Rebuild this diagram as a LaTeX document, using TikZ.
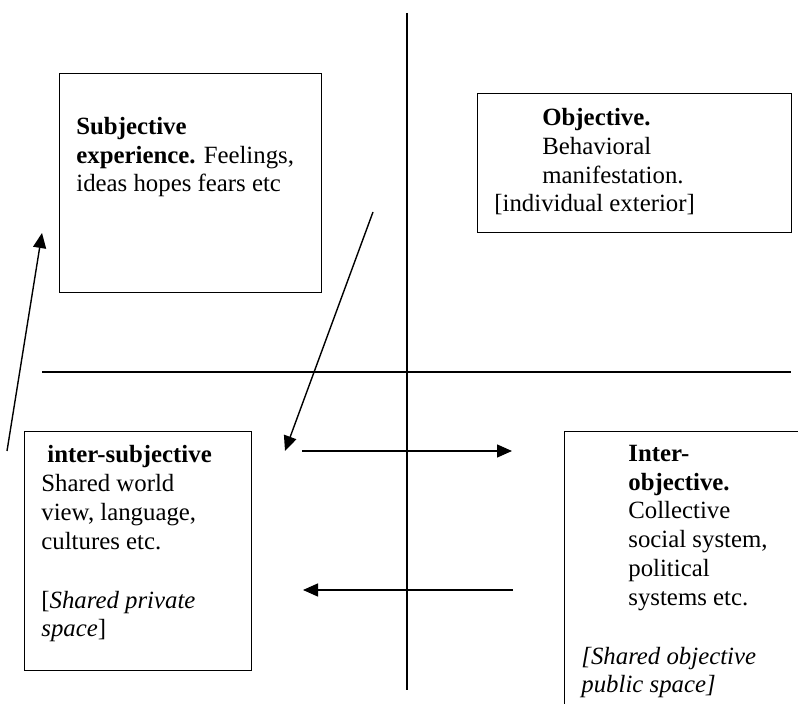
\documentclass[tikz,border=0pt]{standalone}
\usepackage{fontspec}
\setmainfont{Liberation Serif}
\usetikzlibrary{positioning, arrows.meta}

\begin{document}
\begin{tikzpicture}[
  x=0.5pt, y=-0.5pt,
  quad/.style={draw, line width=0.7pt, inner sep=0pt, anchor=north west},
  qtext/.style={inner sep=0pt, anchor=base west, align=left,
                font=\fontsize{12.4}{14.4}\selectfont},
  axis/.style={line width=0.7pt},
  flow/.style={line width=0.7pt, -{Triangle[length=7.5pt, width=6.5pt]}},
]
\useasboundingbox (0,0) rectangle (798,704);
\clip (0,0) rectangle (798,704);

% quadrant axes
\coordinate (vtop) at (407,13);
\coordinate (vbot) at (407,690);
\coordinate (hleft) at (42,372);
\coordinate (hright) at (791,372);
\draw[axis] (vtop) -- (vbot);
\draw[axis] (hleft) -- (hright);

% boxes
\node[quad, minimum width=131pt, minimum height=109.5pt] (subj) at (59,73) {};
\node[quad, minimum width=157pt, minimum height=69.5pt] (obj) at (477,93) {};
\node[quad, minimum width=113.5pt, minimum height=119.5pt] (intsubj) at (24,431) {};
\node[quad, minimum width=130pt, minimum height=150pt] (intobj) at (564,431) {};

% texts, placed by the baseline of their last line
\node[qtext] (subjtxt) at (76,192) {
  \textbf{Subjective}\\
  \textbf{experience.} Feelings,\\
  ideas hopes fears etc
};
\node[qtext] (objtxt) at (494,212) {
  \hspace*{24pt}\textbf{Objective.}\\
  \hspace*{24pt}Behavioral\\
  \hspace*{24pt}manifestation.\\
  {}[individual exterior]
};
\node[qtext] (intsubjtxt) at (41,637) {
  \hspace*{3pt}\textbf{inter-subjective}\\
  Shared world\\
  view, language,\\
  cultures etc.\\[15pt]
  {}[\textit{Shared private}\\
  \textit{space}]
};
\node[qtext] (intobjtxt) at (581,693) {
  \hspace*{23.5pt}\textbf{Inter-}\\
  \hspace*{23.5pt}\textbf{objective.}\\
  \hspace*{23.5pt}Collective\\
  \hspace*{23.5pt}social system,\\
  \hspace*{23.5pt}political\\
  \hspace*{23.5pt}systems etc.\\[15pt]
  \textit{[Shared objective}\\
  \textit{public space]}
};

% arrows
\coordinate (a1s) at (7,451);
\coordinate (a1e) at (42,233);
\coordinate (a2s) at (373,212);
\coordinate (a2e) at (285,451);
\coordinate (a3s) at (302,451);
\coordinate (a3e) at (512,451);
\coordinate (a4s) at (513,590);
\coordinate (a4e) at (303,590);
\draw[flow] (a1s) -- (a1e);
\draw[flow] (a2s) -- (a2e);
\draw[flow] (a3s) -- (a3e);
\draw[flow] (a4s) -- (a4e);
\end{tikzpicture}
\end{document}
